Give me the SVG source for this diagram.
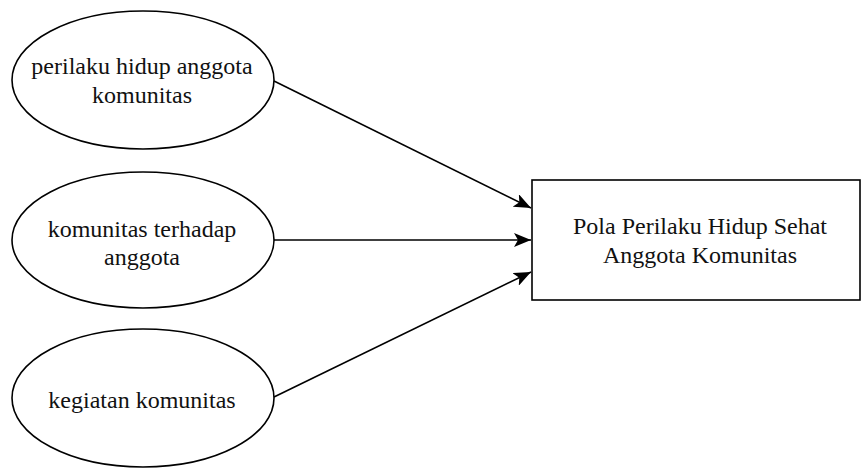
<svg xmlns="http://www.w3.org/2000/svg" width="862" height="469" viewBox="0 0 862 469">
<style>
.shape{fill:#fff;stroke:#000;stroke-width:1.6}
.lbl{font-family:'Liberation Serif',Tinos,'Times New Roman','DejaVu Serif',serif;font-size:24px;fill:#111;text-anchor:middle}
.edge{stroke:#000;stroke-width:1.6;fill:none}
</style>
<defs>
<marker id="arr" markerWidth="18" markerHeight="14" refX="17" refY="7" orient="auto" markerUnits="userSpaceOnUse">
<path d="M0,0 L17,7 L0,14 L4,7 Z" fill="#000"/>
</marker>
</defs>
<rect width="862" height="469" fill="#fff"/>
<g id="connectors">
<line class="edge" x1="274" y1="81" x2="531" y2="208" marker-end="url(#arr)"/>
<line class="edge" x1="274" y1="240" x2="531" y2="240" marker-end="url(#arr)"/>
<line class="edge" x1="274" y1="397" x2="531" y2="272" marker-end="url(#arr)"/>
</g>
<g id="n1">
<ellipse class="shape" cx="143" cy="80" rx="131" ry="69"/>
<text class="lbl" font-family="Liberation Serif" x="142" y="74">perilaku hidup anggota</text>
<text class="lbl" font-family="Liberation Serif" x="142" y="103">komunitas</text>
</g>
<g id="n2">
<ellipse class="shape" cx="143" cy="240" rx="131" ry="68"/>
<text class="lbl" font-family="Liberation Serif" x="142" y="237">komunitas terhadap</text>
<text class="lbl" font-family="Liberation Serif" x="142" y="265">anggota</text>
</g>
<g id="n3">
<ellipse class="shape" cx="143" cy="398" rx="131" ry="69"/>
<text class="lbl" font-family="Liberation Serif" x="142" y="408">kegiatan komunitas</text>
</g>
<g id="n4">
<rect class="shape" x="532" y="180" width="328" height="120"/>
<text class="lbl" font-family="Liberation Serif" x="700" y="234">Pola Perilaku Hidup Sehat</text>
<text class="lbl" font-family="Liberation Serif" x="700" y="263">Anggota Komunitas</text>
</g>
</svg>
